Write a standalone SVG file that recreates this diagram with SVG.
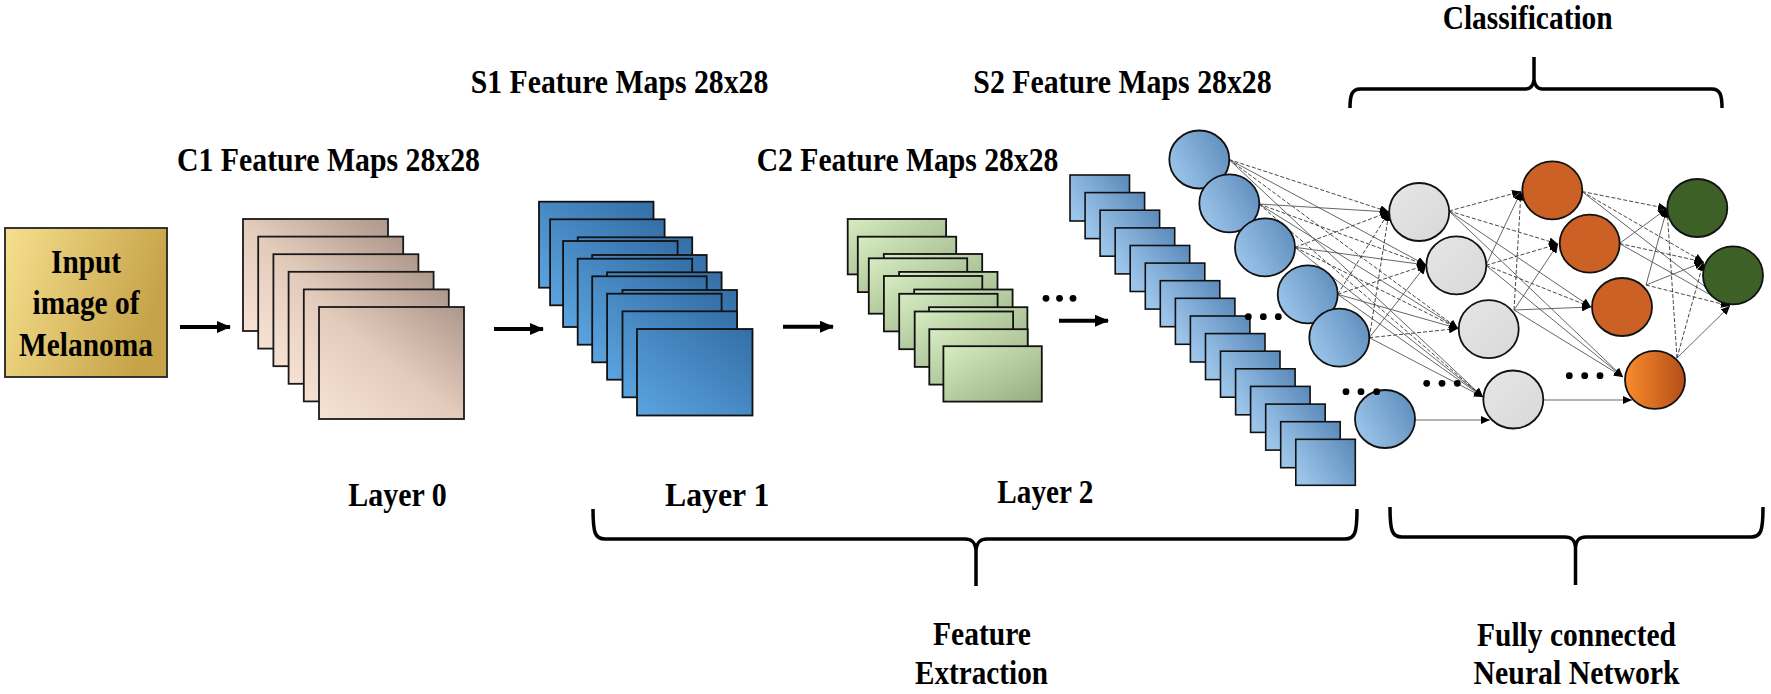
<svg xmlns="http://www.w3.org/2000/svg" width="1771" height="694" viewBox="0 0 1771 694">
<defs>
<linearGradient id="gGold" x1="0" y1="0" x2="1" y2="0.3"><stop offset="0" stop-color="#f6e08e"/><stop offset="1" stop-color="#c6a348"/></linearGradient>
<linearGradient id="gPink" x1="0" y1="1" x2="1" y2="0"><stop offset="0" stop-color="#f7e2d3"/><stop offset="0.5" stop-color="#e3cbbb"/><stop offset="1" stop-color="#ad978b"/></linearGradient>
<linearGradient id="gBlue" x1="0" y1="1" x2="1" y2="0"><stop offset="0" stop-color="#5ba4e0"/><stop offset="1" stop-color="#346ea6"/></linearGradient>
<linearGradient id="gGreen" x1="0" y1="0" x2="1" y2="1"><stop offset="0" stop-color="#d6ecc2"/><stop offset="1" stop-color="#94ad80"/></linearGradient>
<linearGradient id="gLBlue" x1="0" y1="0.7" x2="1" y2="0.2"><stop offset="0" stop-color="#9cc5ea"/><stop offset="1" stop-color="#5e8dbd"/></linearGradient>
<linearGradient id="gGray" x1="0" y1="0" x2="1" y2="1"><stop offset="0" stop-color="#e6e6e6"/><stop offset="1" stop-color="#d8d8d8"/></linearGradient>
<linearGradient id="gOr" x1="0" y1="0" x2="1" y2="0"><stop offset="0" stop-color="#f88c2c"/><stop offset="1" stop-color="#b44e18"/></linearGradient>
<marker id="ah" markerUnits="userSpaceOnUse" markerWidth="14" markerHeight="12" refX="13" refY="6" orient="auto"><path d="M0,0 L14,6 L0,12 z" fill="#000"/></marker>
<marker id="sh" markerUnits="userSpaceOnUse" markerWidth="9" markerHeight="8" refX="9" refY="4" orient="auto"><path d="M0,0 L9,4 L0,8 z" fill="#000"/></marker>
</defs>
<style>
text{font-family:"Liberation Serif","Times New Roman",serif;font-weight:bold;font-size:34px;fill:#000}
.c1 rect{fill:url(#gPink);stroke:#1a1a1a;stroke-width:1.8}
.s1 rect{fill:url(#gBlue);stroke:#111;stroke-width:1.8}
.c2 rect{fill:url(#gGreen);stroke:#111;stroke-width:1.8}
.s2 rect{fill:url(#gLBlue);stroke:#111;stroke-width:1.6}
.bc{fill:url(#gLBlue);stroke:#111;stroke-width:1.8}
.gc{fill:url(#gGray);stroke:#111;stroke-width:1.8}
.oc{fill:#cc6126;stroke:#111;stroke-width:1.8}
.nc{fill:#3d6027;stroke:#111;stroke-width:1.8}
.big{stroke:#000;stroke-width:4;fill:none;marker-end:url(#ah)}
.s{stroke:#555;stroke-width:0.9;fill:none;marker-end:url(#sh)}
.d{stroke:#333;stroke-width:0.9;fill:none;stroke-dasharray:4 2;marker-end:url(#sh)}
.br{stroke:#000;stroke-width:3.5;fill:none}
.dot{fill:#000}
</style>

<g id="input">
<rect x="5" y="228" width="162" height="149" fill="url(#gGold)" stroke="#222" stroke-width="1.8"/>
<text x="86" y="273" text-anchor="middle" textLength="70" lengthAdjust="spacingAndGlyphs">Input</text>
<text x="86" y="314" text-anchor="middle" textLength="107" lengthAdjust="spacingAndGlyphs">image of</text>
<text x="86" y="356" text-anchor="middle" textLength="134" lengthAdjust="spacingAndGlyphs">Melanoma</text>
</g>

<g id="c1-maps" class="c1">
<rect x="243" y="219" width="145" height="112"/>
<rect x="258.2" y="236.6" width="145" height="112"/>
<rect x="273.4" y="254.2" width="145" height="112"/>
<rect x="288.6" y="271.8" width="145" height="112"/>
<rect x="303.8" y="289.4" width="145" height="112"/>
<rect x="319" y="307" width="145" height="112"/>
</g>

<g id="s1-maps" class="s1">
<rect x="539" y="201.7" width="114.5" height="86"/>
<rect x="550.1" y="219.3" width="114.5" height="86"/>
<rect x="577.7" y="237.3" width="114.5" height="86"/>
<rect x="563.1" y="241" width="114.5" height="86"/>
<rect x="592.2" y="255" width="114.5" height="86"/>
<rect x="577.7" y="258.7" width="114.5" height="86"/>
<rect x="607.1" y="272.3" width="114.5" height="86"/>
<rect x="592.2" y="276.3" width="114.5" height="86"/>
<rect x="622.5" y="290" width="114.5" height="86"/>
<rect x="607.1" y="293.7" width="114.5" height="86"/>
<rect x="622.5" y="311.3" width="114.5" height="86"/>
<rect x="637" y="329" width="115.5" height="86.5"/>
</g>

<g id="c2-maps" class="c2">
<rect x="847.7" y="219" width="98.4" height="55.4"/>
<rect x="857.8" y="236.7" width="98.4" height="55.4"/>
<rect x="883.8" y="254" width="98.4" height="55.4"/>
<rect x="868.8" y="258.3" width="98.4" height="55.4"/>
<rect x="899.1" y="271.9" width="98.4" height="55.4"/>
<rect x="883.9" y="276" width="98.4" height="55.4"/>
<rect x="914.2" y="289.5" width="98.4" height="55.4"/>
<rect x="899.2" y="293.8" width="98.4" height="55.4"/>
<rect x="929" y="307.2" width="98.4" height="55.4"/>
<rect x="914.7" y="311.5" width="98.4" height="55.4"/>
<rect x="929.3" y="329.2" width="98.4" height="55.4"/>
<rect x="943.4" y="346.2" width="98.4" height="55.4"/>
</g>

<g id="s2-maps" class="s2">
<rect x="1070" y="175" width="59.5" height="46"/>
<rect x="1085.1" y="192.6" width="59.5" height="46"/>
<rect x="1100.1" y="210.2" width="59.5" height="46"/>
<rect x="1115.2" y="227.9" width="59.5" height="46"/>
<rect x="1130.2" y="245.5" width="59.5" height="46"/>
<rect x="1145.3" y="263.1" width="59.5" height="46"/>
<rect x="1160.3" y="280.7" width="59.5" height="46"/>
<rect x="1175.4" y="298.3" width="59.5" height="46"/>
<rect x="1190.4" y="316" width="59.5" height="46"/>
<rect x="1205.5" y="333.6" width="59.5" height="46"/>
<rect x="1220.5" y="351.2" width="59.5" height="46"/>
<rect x="1235.6" y="368.8" width="59.5" height="46"/>
<rect x="1250.6" y="386.4" width="59.5" height="46"/>
<rect x="1265.7" y="404.1" width="59.5" height="46"/>
<rect x="1280.7" y="421.7" width="59.5" height="46"/>
<rect x="1295.8" y="439.3" width="59.5" height="46"/>
</g>

<g id="connectors">
<line class="big" x1="180" y1="327" x2="230" y2="327"/>
<line class="big" x1="494" y1="329" x2="543" y2="329"/>
<line class="big" x1="783" y1="326.7" x2="833" y2="326.7"/>
<line class="big" x1="1059" y1="320.7" x2="1108" y2="320.7"/>
<!-- blue -> gray -->
<path class="d" d="M1229,159.5 L1389,212"/>
<path class="s" d="M1229,159.5 L1426,265"/>
<path class="d" d="M1229,159.5 L1458,328.5"/>
<path class="s" d="M1229,159.5 L1483,397"/>
<path class="s" d="M1259,204 L1389,212"/>
<path class="d" d="M1259,204 L1426,265"/>
<path class="s" d="M1259,204 L1458,328.5"/>
<path class="d" d="M1259,204 L1483,397"/>
<path class="d" d="M1295,247.3 L1389,212"/>
<path class="s" d="M1295,247.3 L1426,265"/>
<path class="d" d="M1295,247.3 L1458,328.5"/>
<path class="s" d="M1295,247.3 L1483,397"/>
<path class="d" d="M1337.7,294.3 L1389,212"/>
<path class="d" d="M1337.7,294.3 L1426,265"/>
<path class="s" d="M1337.7,294.3 L1458,328.5"/>
<path class="s" d="M1337.7,294.3 L1483,397"/>
<path class="d" d="M1369.3,337.7 L1389,212"/>
<path class="s" d="M1369.3,337.7 L1426,265"/>
<path class="d" d="M1369.3,337.7 L1458,328.5"/>
<path class="s" d="M1369.3,337.7 L1483,397"/>
<path class="s" d="M1415,420 L1490,420"/>
<!-- gray -> orange -->
<path class="d" d="M1449,211 L1521,191.5"/>
<path class="d" d="M1449,211 L1558,244"/>
<path class="s" d="M1449,211 L1591,307"/>
<path class="s" d="M1449,211 L1623,377"/>
<path class="s" d="M1486,265.3 L1521,191.5"/>
<path class="d" d="M1486,265.3 L1558,244"/>
<path class="d" d="M1486,265.3 L1591,307"/>
<path class="s" d="M1486,265.3 L1623,377"/>
<path class="d" d="M1514,310 L1521,191.5"/>
<path class="s" d="M1514,310 L1558,244"/>
<path class="s" d="M1514,310 L1591,307"/>
<path class="s" d="M1514,310 L1623,377"/>
<path class="s" d="M1543,400 L1632,400"/>
<!-- orange -> green -->
<path class="d" d="M1582,191.5 L1667,208.5"/>
<path class="d" d="M1582,191.5 L1703.5,262"/>
<path class="s" d="M1582,191.5 L1730,306"/>
<path class="s" d="M1619.5,243.5 L1667,208.5"/>
<path class="d" d="M1619.5,243.5 L1703.5,262"/>
<path class="s" d="M1619.5,243.5 L1730,306"/>
<path class="s" d="M1646,285 L1667,208.5"/>
<path class="s" d="M1646,285 L1703.5,262"/>
<path class="d" d="M1646,285 L1730,306"/>
<path class="d" d="M1677,358 L1667,208.5"/>
<path class="d" d="M1677,358 L1703.5,262"/>
<path class="s" d="M1677,358 L1730,306"/>
</g>

<g id="blue-neurons">
<g id="b1"><ellipse class="bc" cx="1199.3" cy="159.5" rx="30" ry="29"/></g>
<g id="b2"><ellipse class="bc" cx="1229.3" cy="203.3" rx="30" ry="29"/></g>
<g id="b3"><ellipse class="bc" cx="1265" cy="247.3" rx="30" ry="29"/></g>
<g id="b4"><ellipse class="bc" cx="1307.7" cy="294.3" rx="30" ry="29"/></g>
<g id="b5"><ellipse class="bc" cx="1339.3" cy="337.7" rx="30" ry="29"/></g>
<g id="b6"><ellipse class="bc" cx="1385" cy="419" rx="30" ry="29"/></g>
</g>
<g id="gray-neurons">
<g id="w1"><ellipse class="gc" cx="1419.2" cy="212" rx="30" ry="29"/></g>
<g id="w2"><ellipse class="gc" cx="1456.3" cy="265.3" rx="30" ry="29"/></g>
<g id="w3"><ellipse class="gc" cx="1488.7" cy="329.2" rx="30" ry="29"/></g>
<g id="w4"><ellipse class="gc" cx="1513.3" cy="399.5" rx="30" ry="29"/></g>
</g>
<g id="orange-neurons">
<g id="o1"><ellipse class="oc" cx="1552.3" cy="190.3" rx="30" ry="29"/></g>
<g id="o2"><ellipse class="oc" cx="1589.7" cy="243.7" rx="30" ry="29"/></g>
<g id="o3"><ellipse class="oc" cx="1622" cy="307" rx="30" ry="29"/></g>
<g id="o4"><ellipse cx="1655" cy="379.8" rx="30" ry="29" fill="url(#gOr)" stroke="#111" stroke-width="1.8"/></g>
</g>
<g id="green-neurons">
<g id="n1"><ellipse class="nc" cx="1697.3" cy="208" rx="30" ry="29"/></g>
<g id="n2"><ellipse class="nc" cx="1733" cy="275.3" rx="30" ry="29"/></g>
</g>

<g id="ellipses">
<circle class="dot" cx="1046" cy="298.3" r="3.4"/><circle class="dot" cx="1059.5" cy="298.3" r="3.4"/><circle class="dot" cx="1073" cy="298.3" r="3.4"/>
<circle class="dot" cx="1248.3" cy="316.7" r="3.4"/><circle class="dot" cx="1263.3" cy="316.7" r="3.4"/><circle class="dot" cx="1278.3" cy="316.7" r="3.4"/>
<circle class="dot" cx="1346" cy="391.7" r="3.4"/><circle class="dot" cx="1361" cy="391.7" r="3.4"/><circle class="dot" cx="1376.7" cy="391.7" r="3.4"/>
<circle class="dot" cx="1426.7" cy="383.3" r="3.4"/><circle class="dot" cx="1442" cy="383.3" r="3.4"/><circle class="dot" cx="1457.3" cy="383.3" r="3.4"/>
<circle class="dot" cx="1569.3" cy="375.7" r="3.4"/><circle class="dot" cx="1584.7" cy="375.7" r="3.4"/><circle class="dot" cx="1600" cy="375.7" r="3.4"/>
</g>

<g id="titles">
<text x="177" y="171" textLength="303" lengthAdjust="spacingAndGlyphs">C1 Feature Maps 28x28</text>
<text x="470.7" y="93.3" textLength="297.6" lengthAdjust="spacingAndGlyphs">S1 Feature Maps 28x28</text>
<text x="756.7" y="171" textLength="301.6" lengthAdjust="spacingAndGlyphs">C2 Feature Maps 28x28</text>
<text x="973.3" y="92.7" textLength="298.4" lengthAdjust="spacingAndGlyphs">S2 Feature Maps 28x28</text>
<text x="1442.7" y="29.3" textLength="170" lengthAdjust="spacingAndGlyphs">Classification</text>
<text x="348.3" y="506" textLength="98.4" lengthAdjust="spacingAndGlyphs">Layer 0</text>
<text x="665" y="506" textLength="104.3" lengthAdjust="spacingAndGlyphs">Layer 1</text>
<text x="997.3" y="503.3" textLength="96" lengthAdjust="spacingAndGlyphs">Layer 2</text>
</g>

<g id="feature-extraction">
<path class="br" d="M593,509 C593,533 595,539 605,539 L965,539 C972,539 975,542 976,550 L976,586 M976,550 C977,542 980,539 987,539 L1345,539 C1355,539 1357,533 1357,509"/>
<text x="982" y="645" text-anchor="middle" textLength="98" lengthAdjust="spacingAndGlyphs">Feature</text>
<text x="981.5" y="684" text-anchor="middle" textLength="133" lengthAdjust="spacingAndGlyphs">Extraction</text>
</g>

<g id="fully-connected">
<path class="br" d="M1390,507 C1390,531 1392,537 1402,537 L1565,537 C1572,537 1575,540 1575.5,548 L1575.5,585 M1575.5,548 C1576,540 1579,537 1586,537 L1751,537 C1761,537 1763,531 1763,507"/>
<text x="1576.5" y="645.5" text-anchor="middle" textLength="199" lengthAdjust="spacingAndGlyphs">Fully connected</text>
<text x="1576.6" y="684" text-anchor="middle" textLength="206" lengthAdjust="spacingAndGlyphs">Neural Network</text>
</g>

<g id="classification">
<path class="br" d="M1350,108 C1350,95 1352,89 1360,89 L1526,89 C1531,89 1533,86 1534,80 L1534,57 M1534,80 C1535,86 1537,89 1542,89 L1712,89 C1720,89 1722,95 1722,108"/>
</g>
</svg>
